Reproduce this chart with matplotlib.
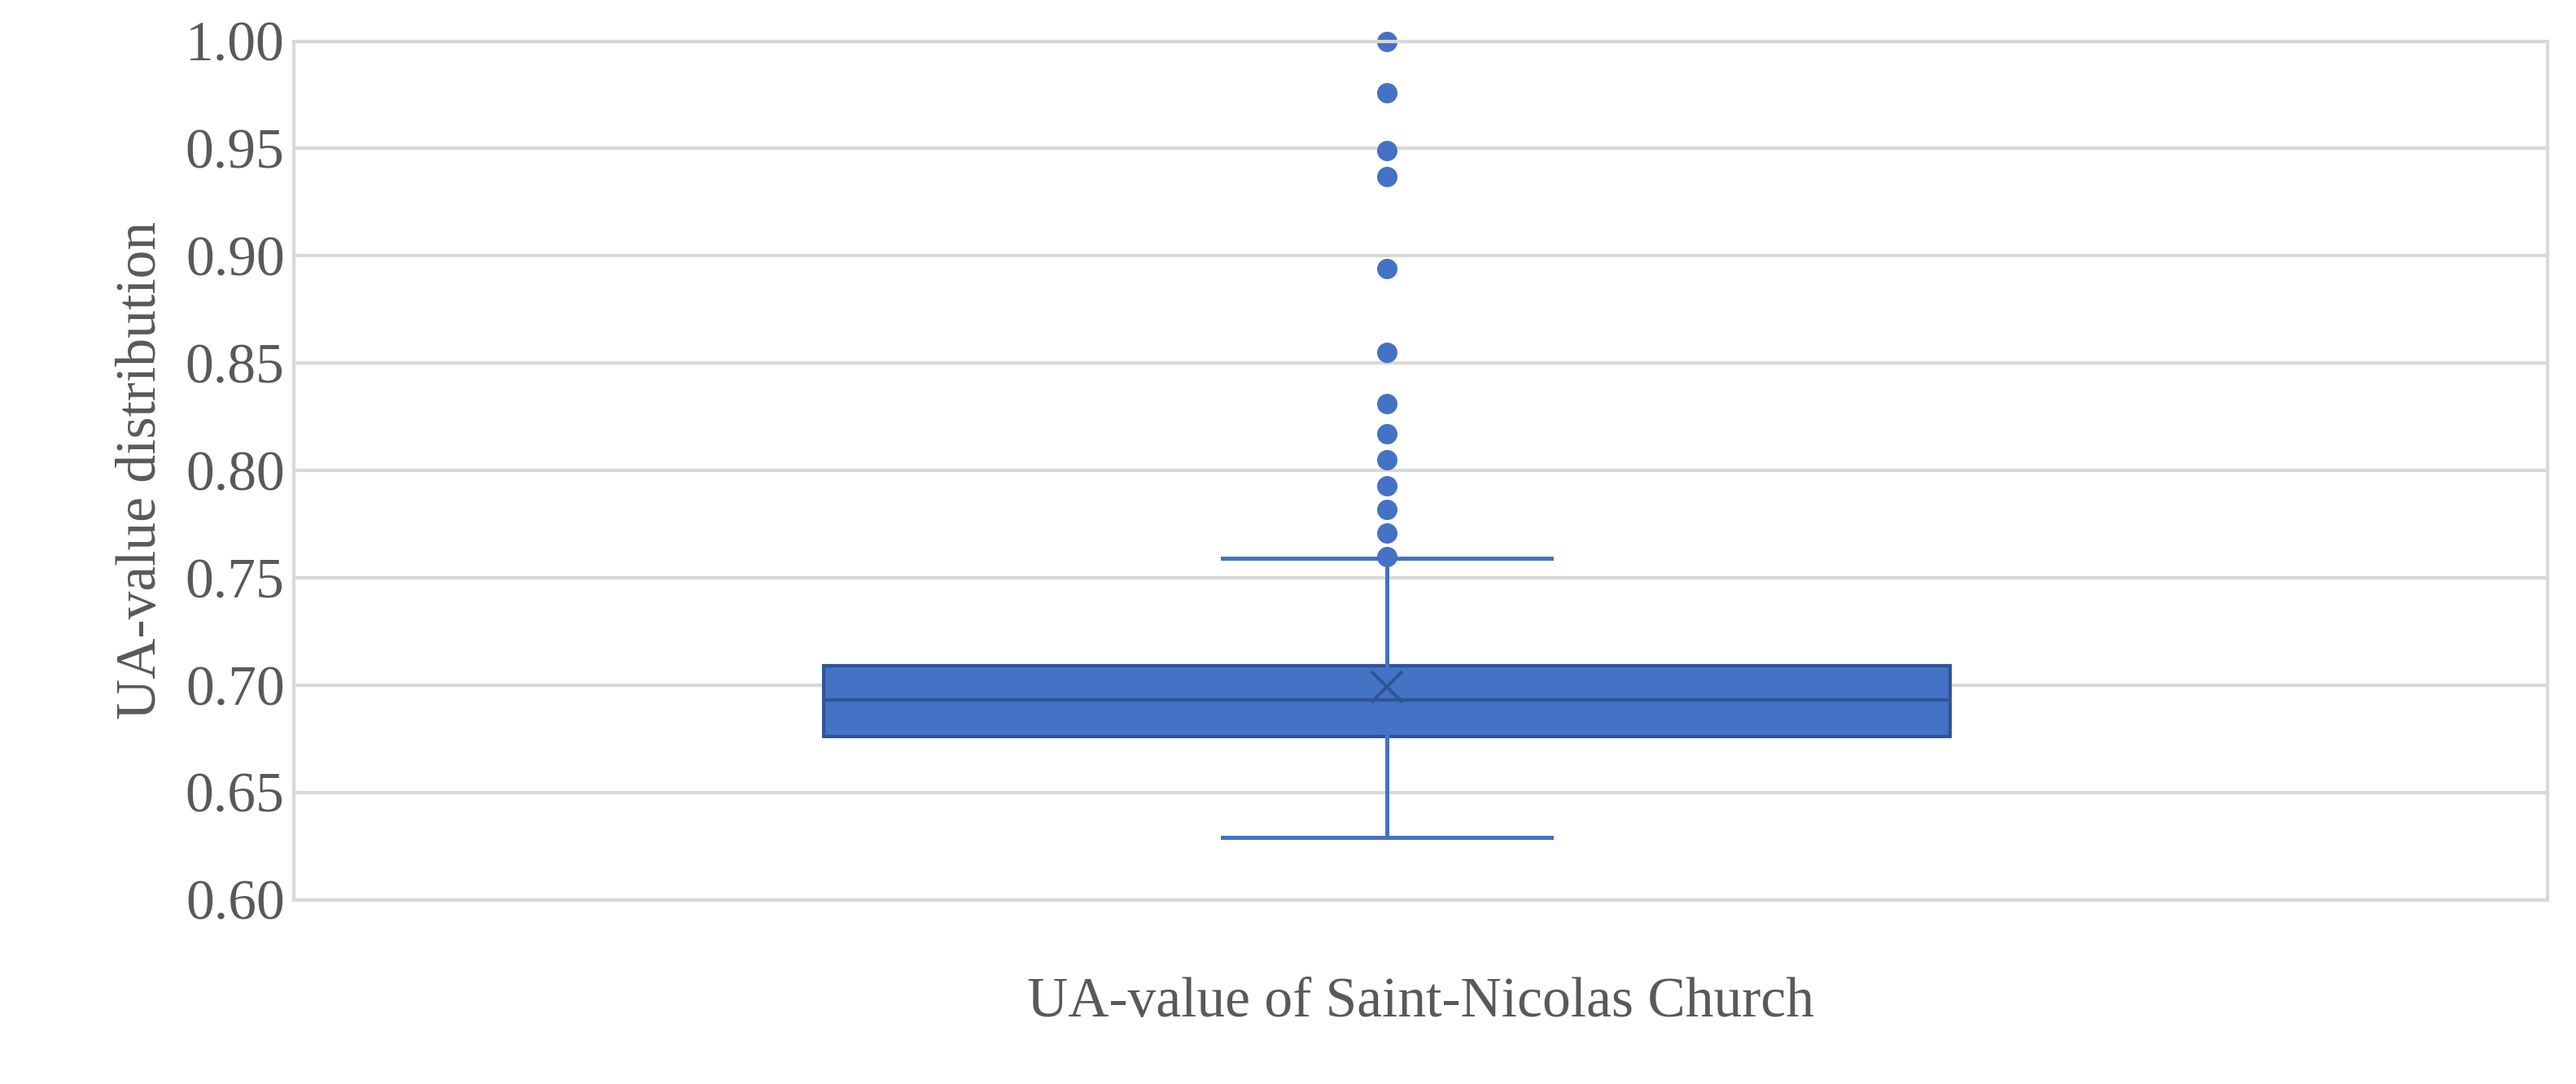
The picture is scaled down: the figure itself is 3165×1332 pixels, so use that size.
import matplotlib
matplotlib.use("Agg")
import matplotlib.pyplot as plt

# Box statistics
q1, median, q3 = 0.676, 0.693, 0.709
mean = 0.699
whisker_low, whisker_high = 0.629, 0.759
outliers = [1.000, 0.976, 0.949, 0.937, 0.894, 0.855, 0.831, 0.817,
            0.805, 0.793, 0.782, 0.771, 0.760]

blue = "#4472C4"
edge = "#2F5597"

plt.rcParams["font.family"] = ["Liberation Serif", "DejaVu Serif"]

fig = plt.figure(figsize=(15.825, 6.66), dpi=200)
ax = fig.add_axes([0.114, 0.170, 0.875, 0.792])

stats = [dict(med=median, q1=q1, q3=q3, whislo=whisker_low, whishi=whisker_high,
              mean=mean, fliers=outliers)]
parts = ax.bxp(stats, positions=[0.485], widths=0.5, patch_artist=True, showmeans=True,
               capwidths=0.146,
               boxprops=dict(facecolor=blue, edgecolor=edge, linewidth=1.5),
               medianprops=dict(color=edge, linewidth=1.5),
               whiskerprops=dict(color=blue, linewidth=1.8),
               capprops=dict(color=blue, linewidth=1.8),
               meanprops=dict(marker="x", markeredgecolor=edge, markersize=14, markeredgewidth=1.5),
               flierprops=dict(marker="o", markerfacecolor=blue, markeredgecolor=blue, markersize=8))
for f in parts["fliers"]:
    f.set_clip_on(False)

ax.set_xlim(0, 1)
ax.set_ylim(0.60, 1.00)
ax.set_yticks([0.60 + 0.05 * i for i in range(9)])
ax.set_yticklabels([f"{0.60 + 0.05 * i:.2f}" for i in range(9)])
ax.set_xticks([])
ax.yaxis.grid(True, color="#D9D9D9", linewidth=1.5)
ax.set_axisbelow(True)
for s in ax.spines.values():
    s.set_color("#D9D9D9")
    s.set_linewidth(1.5)
ax.tick_params(axis="y", length=0, labelsize=25, labelcolor="#595959", pad=4)
ax.set_ylabel("UA-value distribution", fontsize=25, color="#595959", labelpad=8)
ax.set_xlabel("UA-value of Saint-Nicolas Church", fontsize=25, color="#595959", labelpad=34)

fig.savefig("out.png")
